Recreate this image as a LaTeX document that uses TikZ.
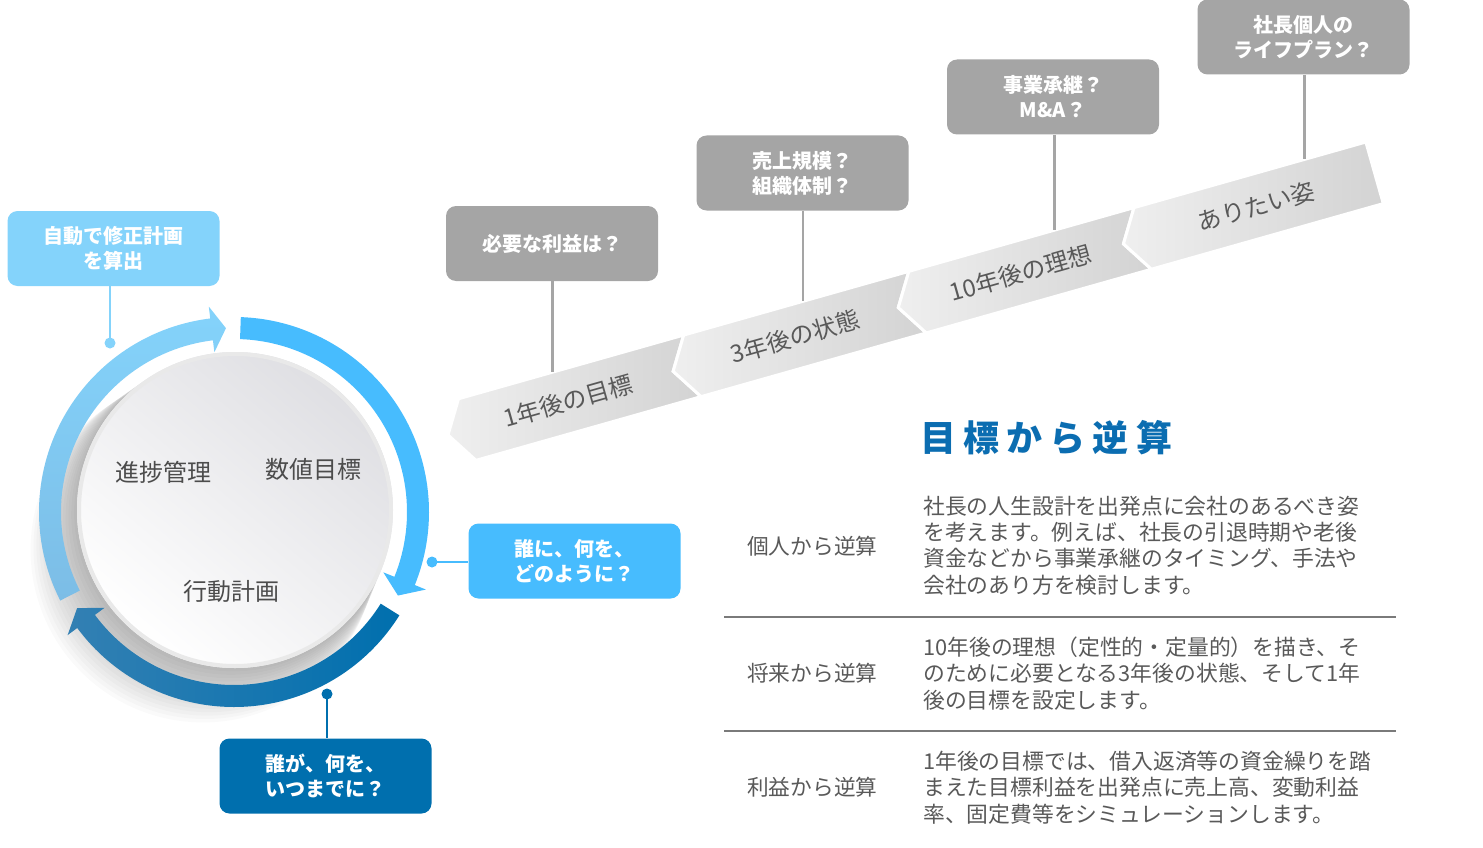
\documentclass[tikz,border=0pt]{standalone}
\usepackage{fontspec}
\setmainfont{Noto Sans CJK JP}
\newfontfamily\titlefont{Noto Sans CJK JP}[LetterSpace=20]
\usetikzlibrary{calc}

\definecolor{lightblue}{HTML}{84D3FB}
\definecolor{lightblueb}{HTML}{7CBDE6}
\definecolor{midblue}{HTML}{47BCFE}
\definecolor{darkblue}{HTML}{006FAE}
\definecolor{darkblueb}{HTML}{3380B3}
\definecolor{boxgrey}{HTML}{A5A5A5}
\definecolor{titleblue}{HTML}{0B6DB1}
\definecolor{textgrey}{HTML}{595959}
\definecolor{rulegrey}{HTML}{7A7A7A}
\definecolor{discgrey}{HTML}{DFDFE3}
\definecolor{rimgrey}{HTML}{E9E9E9}
\definecolor{bandlight}{HTML}{EFEFEF}
\definecolor{banddark}{HTML}{D3D3D3}

\tikzset{
  callout/.style={rounded corners=10pt,minimum width=212pt,minimum height=75pt,inner sep=0pt,
    align=center,text=white,font=\fontsize{20}{25}\selectfont\bfseries},
  link/.style={line width=2.8pt},
  stage/.style={text=textgrey,font=\fontsize{24}{28}\selectfont,rotate=15.8},
  cyclelabel/.style={text=textgrey!85!black,font=\fontsize{24}{28}\selectfont},
  rowlabel/.style={anchor=west,inner sep=0pt,text=textgrey,font=\fontsize{21.7}{26.4}\selectfont},
  rowtext/.style={anchor=west,inner sep=0pt,align=left,text=textgrey,font=\fontsize{21.8}{26.4}\selectfont},
}

\begin{document}
\begin{tikzpicture}[x=1pt,y=-1pt]
\useasboundingbox (0,0) rectangle (1483,848);

% shadow of the disc
\foreach \k in {1,...,16}{\fill[black,opacity=0.018] ({235-2*\k},{510+2.5*\k}) circle ({158+0.9*\k});}

% cycle arrows
\begin{scope}[shift={(234,512)}]
\shade[top color=lightblue,bottom color=lightblueb] (153:195) arc[start angle=153,end angle=263,radius=195] -- (263:207) -- (267.5:184) -- (263:161) -- (263:173) arc[start angle=263,end angle=153,radius=173] -- cycle;
\fill[midblue] (272:195) arc[start angle=272,end angle=382,radius=195] -- (382:207) -- (387:184) -- (382:161) -- (382:173) arc[start angle=382,end angle=272,radius=173] -- cycle;
\shade[left color=darkblueb,right color=darkblue] (32:195) arc[start angle=32,end angle=143.5,radius=195] -- (143.5:207) -- (148.5:184) -- (143.5:161) -- (143.5:173) arc[start angle=143.5,end angle=32,radius=173] -- cycle;
\end{scope}

% disc
\shade[top color=discgrey,bottom color=white,shading angle=-40] (235,510) circle (158);
\draw[rimgrey,line width=4pt] (235,510) circle (156);
\node[cyclelabel] (prog) at (163,472) {進捗管理};
\node[cyclelabel] (num) at (313,469) {数値目標};
\node[cyclelabel] (act) at (231,591) {行動計画};

% callouts of the cycle
\node[callout,fill=lightblue] (fix) at (113.5,248.5) {自動で修正計画\\を算出};
\node[callout,fill=midblue] (how) at (574.5,561) {誰に、何を、\\どのように？};
\node[callout,fill=darkblue] (when) at (325.5,776) {誰が、何を、\\いつまでに？};
\coordinate (fixdot) at (110,343);
\coordinate (howdot) at (432,562);
\coordinate (whendot) at (327,694);
\draw[link,lightblue] (fixdot |- fix.south) -- (fixdot);
\draw[link,midblue] (howdot) -- (howdot -| how.west);
\draw[link,darkblue] (whendot) -- (whendot |- when.north);
\foreach \d/\c in {fixdot/lightblue,howdot/midblue,whendot/darkblue}{\fill[\c] (\d) circle (5.5);}

% stair band
\begin{scope}[shift={(448,435)},rotate=15.8]
\foreach \i in {0,1,2}{
  \shadedraw[left color=bandlight,right color=banddark,draw=white,line width=3pt] ({234*\i},0) -- ({234*\i+20},-32) -- ({234*\i+254},-32) -- ({234*\i+234},0) -- ({234*\i+254},32) -- ({234*\i+20},32) -- cycle;
}
\shadedraw[left color=bandlight,right color=banddark,draw=white,line width=3pt] (702,0) -- (722,-32) -- (963,-32) -- (963,32) -- (722,32) -- cycle;
\foreach \u/\t [count=\n] in {125/1年後の目標,361/3年後の状態,595/10年後の理想,840/ありたい姿}{\node[stage] (stage\n) at (\u,0) {\t};}
\foreach \u [count=\n] in {118,378,639,899}{\coordinate (top\n) at (\u,-32);}
\end{scope}

% questions above the band
\node[callout,fill=boxgrey] (q1) at (552,243.5) {必要な利益は？};
\node[callout,fill=boxgrey] (q2) at (802.5,173) {売上規模？\\組織体制？};
\node[callout,fill=boxgrey] (q3) at (1053,97) {事業承継？\\M\&A？};
\node[callout,fill=boxgrey] (q4) at (1303.5,37) {社長個人の\\ライフプラン？};
\foreach \n in {1,...,4}{\draw[link,boxgrey] (top\n |- q\n.south) -- (top\n);}

% table
\node[text=titleblue,font=\titlefont\fontsize{36}{40}\selectfont\bfseries] (title) at (1046,438) {目標から逆算};
\draw[rulegrey,line width=2pt] (724,617) -- (1396,617);
\draw[rulegrey,line width=2pt] (724,731) -- (1396,731);
\node[rowlabel] (l1) at (747,546) {個人から逆算};
\node[rowlabel] (l2) at (747,673) {将来から逆算};
\node[rowlabel] (l3) at (747,787) {利益から逆算};
\node[rowtext] (t1) at (923,545.5) {社長の人生設計を出発点に会社のあるべき姿\\を考えます。例えば、社長の引退時期や老後\\資金などから事業承継のタイミング、手法や\\会社のあり方を検討します。};
\node[rowtext] (t2) at (923,673.5) {10年後の理想（定性的・定量的）を描き、そ\\のために必要となる3年後の状態、そして1年\\後の目標を設定します。};
\node[rowtext] (t3) at (923,787.5) {1年後の目標では、借入返済等の資金繰りを踏\\まえた目標利益を出発点に売上高、変動利益\\率、固定費等をシミュレーションします。};
\end{tikzpicture}
\end{document}
